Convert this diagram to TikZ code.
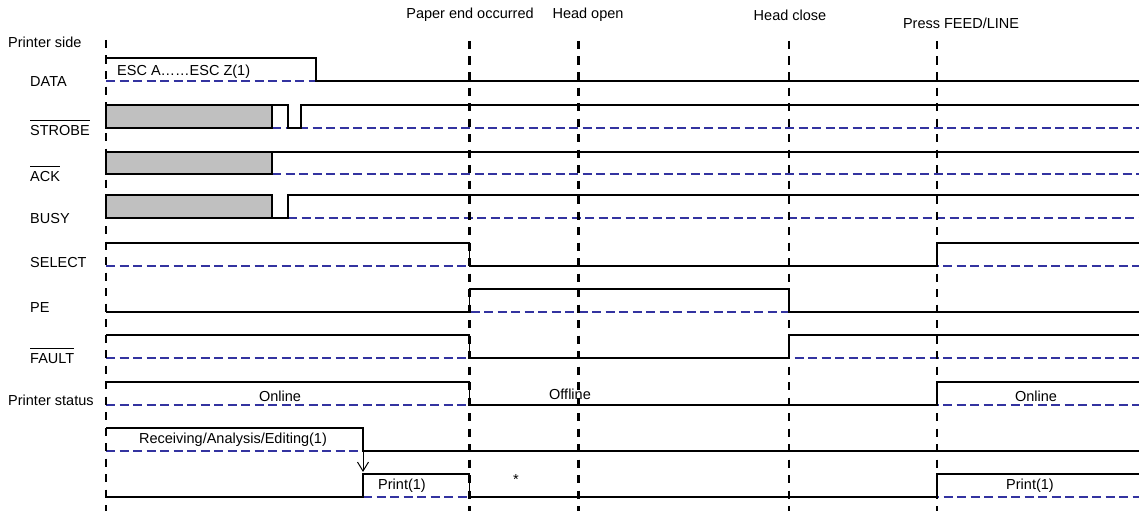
\documentclass[tikz,border=0pt]{standalone}
\usepackage{fontspec}
\setmainfont{Liberation Sans}
\usetikzlibrary{arrows.meta}
\definecolor{refblue}{RGB}{51,51,160}
\definecolor{boxgray}{RGB}{192,192,192}
\newcommand\myovl[1]{\setbox0\hbox{#1}\rlap{\rule[\dimexpr\ht0+4.5pt\relax]{\wd0}{0.9pt}}#1}
\begin{document}
\begin{tikzpicture}[x=1pt,y=-1pt,
  sig/.style={line width=1.9pt, line join=miter},
  refline/.style={refblue, line width=1.5pt, dash pattern=on 9pt off 4.5pt},
  vmark/.style={line width=2.2pt, dash pattern=on 8pt off 7.5pt},
  lbl/.style={font=\fontsize{14.5}{17}\selectfont, inner sep=0pt},
  shade/.style={sig, fill=boxgray}]
\useasboundingbox (0,0) rectangle (1139,511);

% reference (low level) dashed lines
\draw[refline] (106,81) -- (316,81);
\draw[refline] (272,128) -- (1139,128);
\draw[refline] (272,174) -- (1139,174);
\draw[refline] (288,218) -- (1139,218);
\draw[refline] (106,266) -- (1139,266);
\draw[refline] (106,312) -- (1139,312);
\draw[refline] (106,358) -- (1139,358);
\draw[refline] (106,405) -- (1139,405);
\draw[refline] (106,451) -- (363,451);
\draw[refline] (363,497) -- (1139,497);

% signals
\draw[sig] (106,58) -- (316,58) -- (316,81) -- (1139,81);
\filldraw[shade] (106,105) rectangle (272,128);
\draw[sig] (272,105) -- (288,105) -- (288,128) -- (301,128) -- (301,105) -- (1139,105);
\filldraw[shade] (106,152) rectangle (272,174);
\draw[sig] (272,152) -- (1139,152);
\filldraw[shade] (106,195) rectangle (272,218);
\draw[sig] (272,218) -- (288,218) -- (288,195) -- (1139,195);
\draw[sig] (106,243) -- (469.5,243) -- (469.5,266) -- (937,266) -- (937,243) -- (1139,243);
\draw[sig] (106,312) -- (469.5,312) -- (469.5,289) -- (789,289) -- (789,312) -- (1139,312);
\draw[sig] (106,335) -- (469.5,335) -- (469.5,358) -- (789,358) -- (789,335) -- (1139,335);
\draw[sig] (106,382) -- (469.5,382) -- (469.5,405) -- (937,405) -- (937,382) -- (1139,382);
\draw[sig] (106,428) -- (363,428) -- (363,451) -- (1139,451);
\draw[sig] (106,497) -- (363,497) -- (363,474) -- (469.5,474) -- (469.5,497) -- (937,497) -- (937,474) -- (1139,474);

% event markers
\draw[vmark] (106,40) -- (106,511);
\draw[vmark] (469.5,41) -- (469.5,511);
\draw[vmark] (578.5,41) -- (578.5,511);
\draw[vmark] (789,41) -- (789,511);
\draw[vmark] (937,41) -- (937,511);

% arrow
\coordinate (arrS) at (363,451);
\coordinate (arrE) at (363,472);
\draw[line width=1pt, -{Straight Barb[length=9pt,width=11pt,line width=1pt]}] (arrS) -- (arrE);

% top labels
\node[lbl] (tPE) at (470,15) {Paper end occurred};
\node[lbl] (tHO) at (588,15) {Head open};
\node[lbl] (tHC) at (790,15) {Head close};
\node[lbl] (tFL) at (961,23) {Press FEED/LINE};

% left labels
\node[lbl, anchor=west] (lPS) at (8,42) {Printer side};
\node[lbl, anchor=west] (lDATA) at (30,82) {DATA};
\node[lbl, anchor=west] (lSTB) at (30,128) {\myovl{STROBE}};
\node[lbl, anchor=west] (lACK) at (30,174) {\myovl{ACK}};
\node[lbl, anchor=west] (lBUSY) at (30,219) {BUSY};
\node[lbl, anchor=west] (lSEL) at (30,263) {SELECT};
\node[lbl, anchor=west] (lPEs) at (30,308) {PE};
\node[lbl, anchor=west] (lFLT) at (30,356) {\myovl{FAULT}};
\node[lbl, anchor=west] (lSTAT) at (8,400) {Printer status};

% in-signal labels
\node[lbl, anchor=west] (tESC) at (117,72) {ESC A……ESC Z(1)};
\node[lbl] (tOn1) at (280,396) {Online};
\node[lbl] (tOff) at (570,394) {Offline};
\node[lbl] (tOn2) at (1036,396) {Online};
\node[lbl] (tRcv) at (233,440) {Receiving/Analysis/Editing(1)};
\node[lbl] (tPr1) at (402,486) {Print(1)};
\node[lbl] (tStar) at (516,480) {*};
\node[lbl] (tPr2) at (1030,486) {Print(1)};
\end{tikzpicture}
\end{document}
